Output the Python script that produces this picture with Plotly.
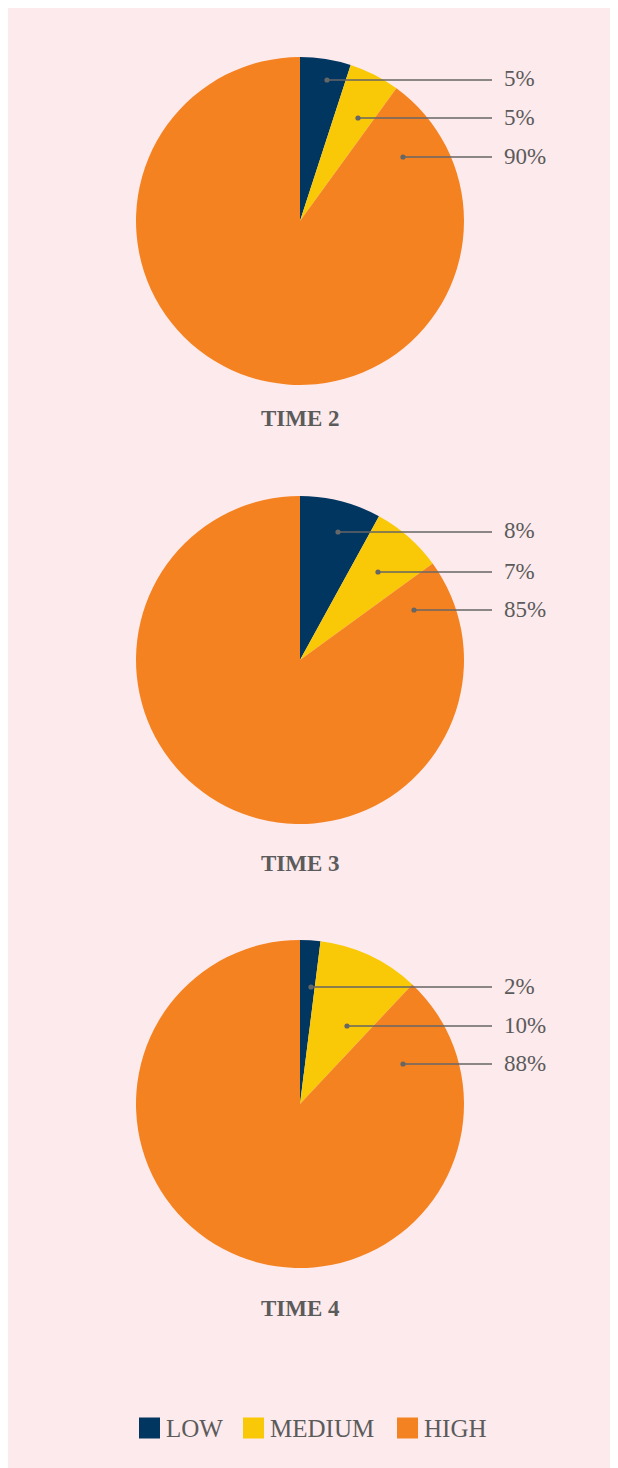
import plotly.graph_objects as go

# ---- data ----
categories = ["LOW", "MEDIUM", "HIGH"]
titles = ["TIME 2", "TIME 3", "TIME 4"]
values_time2 = [5, 5, 90]
values_time3 = [8, 7, 85]
values_time4 = [2, 10, 88]
series = [values_time2, values_time3, values_time4]
colors = ["#00365F", "#F9C806", "#F58220"]

# ---- layout (page pixels; the page body has an 8px margin) ----
OFF = 8
W, H = 618 - OFF, 1468 - OFF
BG = "#FDEAEC"
TXT = "#5B5B5B"
FONT = "Liberation Serif"
pie_centers_y = [221, 660, 1104]
pie_cx = 300
radius = 164
title_y = [418, 863, 1308]
label_rows = [[80, 118, 157], [532, 572, 610], [987, 1026, 1064]]
dot_x = [[327, 358, 403], [338, 378, 414], [311, 347, 403]]
line_end_x = 492
text_x = 502


def px(x):
    return (x - OFF) / W


def py(y):
    return 1 - (y - OFF) / H


fig = go.Figure()
shapes = [dict(type="rect", xref="paper", yref="paper", x0=0, x1=1, y0=0, y1=1,
               fillcolor=BG, line=dict(width=0), layer="below")]
annotations = []

for i, vals in enumerate(series):
    cy = pie_centers_y[i]
    fig.add_trace(go.Pie(
        labels=categories, values=vals, sort=False, direction="clockwise", rotation=0,
        marker=dict(colors=colors, line=dict(width=0)), textinfo="none", hoverinfo="label+percent",
        showlegend=False,
        domain=dict(x=[px(pie_cx - radius), px(pie_cx + radius)], y=[py(cy + radius), py(cy - radius)]),
    ))
    annotations.append(dict(x=px(pie_cx), y=py(title_y[i]), xref="paper", yref="paper",
                            text="<b>%s</b>" % titles[i], showarrow=False,
                            font=dict(family=FONT, size=23, color=TXT), xanchor="center", yanchor="middle"))
    for j, v in enumerate(vals):
        ly = label_rows[i][j]
        dx = dot_x[i][j]
        shapes.append(dict(type="line", xref="paper", yref="paper", x0=px(dx), x1=px(line_end_x),
                           y0=py(ly), y1=py(ly), line=dict(color="#666666", width=1.5), layer="above"))
        shapes.append(dict(type="circle", xref="paper", yref="paper", x0=px(dx - 2.6), x1=px(dx + 2.6),
                           y0=py(ly + 2.6), y1=py(ly - 2.6), fillcolor="#666666", line=dict(width=0), layer="above"))
        annotations.append(dict(x=px(text_x), y=py(ly - 1), xref="paper", yref="paper",
                                text="%d%%" % v, showarrow=False, xanchor="left", yanchor="middle",
                                font=dict(family=FONT, size=23, color=TXT)))

# legend
leg_sq_x = [139, 243, 397]
leg_y = 1428
for k, cat in enumerate(categories):
    x0 = leg_sq_x[k]
    shapes.append(dict(type="rect", xref="paper", yref="paper", x0=px(x0), x1=px(x0 + 21),
                       y0=py(leg_y + 10.5), y1=py(leg_y - 10.5), fillcolor=colors[k], line=dict(width=0)))
    annotations.append(dict(x=px(x0 + 25), y=py(leg_y), xref="paper", yref="paper", text=cat,
                            showarrow=False, xanchor="left", yanchor="middle",
                            font=dict(family=FONT, size=25, color=TXT)))

fig.update_layout(width=W, height=H, margin=dict(l=0, r=0, t=0, b=0),
                  paper_bgcolor=BG, plot_bgcolor=BG,
                  shapes=shapes, annotations=annotations, showlegend=False)
fig.write_html("out.html")
